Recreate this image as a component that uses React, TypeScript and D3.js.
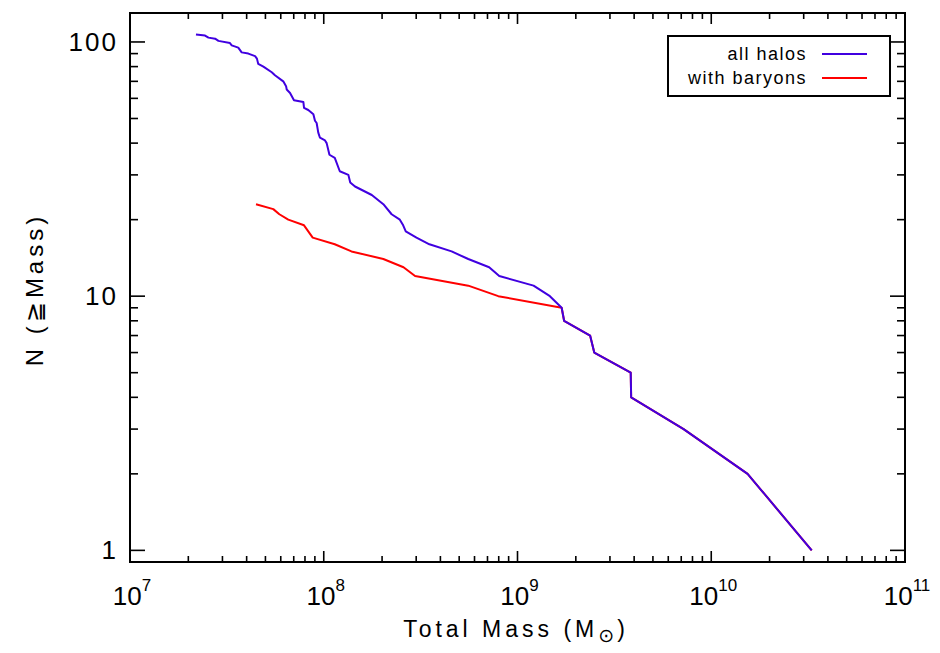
import * as d3 from "d3";

// cumulative halo counts N(>=M) (mass in solar masses)
const allHaloCounts = [
  1, 2, 3, 4, 5, 6, 7, 8, 9, 10, 11, 12, 13, 14, 15, 16, 17, 18, 19, 20, 21, 23, 25, 27, 28, 30,
  31, 35, 36, 40, 41, 42, 44, 48, 49, 52, 54, 55, 58, 59, 63, 65, 67, 70, 74, 76, 80, 82, 86, 88,
  90, 91, 95, 97, 99, 101, 103, 104, 106, 107,
];
const allHaloMasses = [
  3.3e10, 1.54e10, 7.2e9, 3.86e9, 3.84e9, 2.49e9, 2.37e9, 1.74e9, 1.69e9, 1.47e9, 1.21e9, 8.05e8,
  7.14e8, 5.57e8, 4.57e8, 3.51e8, 3.01e8, 2.65e8, 2.57e8, 2.47e8, 2.24e8, 2.03e8, 1.77e8, 1.45e8,
  1.37e8, 1.34e8, 1.21e8, 1.14e8, 1.07e8, 1.035e8, 1.015e8, 9.56e7, 9.37e7, 9.19e7, 9.01e7, 8.84e7,
  8.32e7, 7.91e7, 7.85e7, 7.02e7, 6.7e7, 6.44e7, 6.39e7, 6.18e7, 5.6e7, 5.39e7, 4.88e7, 4.59e7,
  4.52e7, 4.42e7, 4.08e7, 3.77e7, 3.62e7, 3.35e7, 3.28e7, 2.86e7, 2.75e7, 2.54e7, 2.44e7, 2.19e7,
];
const baryonCounts = [1, 2, 3, 4, 5, 6, 7, 8, 9, 10, 11, 12, 13, 14, 15, 16, 17, 19, 20, 21, 22, 23];
const baryonMasses = [
  3.3e10, 1.54e10, 7.2e9, 3.86e9, 3.84e9, 2.49e9, 2.37e9, 1.74e9, 1.69e9, 7.96e8, 5.57e8, 2.96e8,
  2.58e8, 2.03e8, 1.39e8, 1.14e8, 8.77e7, 7.91e7, 6.56e7, 5.9e7, 5.49e7, 4.47e7,
];

const xDecades = [7, 8, 9, 10, 11];
const yMajor = [1, 10, 100];
const legendLabels = ["all halos", "with baryons"];

const W = 940;
const H = 653;
const plot = { left: 130, right: 905, top: 13, bottom: 562 };
const blue = "#4000e0";
const red = "#ff0000";
const font = "'Liberation Sans', 'DejaVu Sans', sans-serif";

export default function App() {
  const x = d3.scaleLog().domain([1e7, 1e11]).range([plot.left, plot.right]);
  const y = d3.scaleLog().domain([0.9, 130]).range([plot.bottom, plot.top]);
  const line = d3
    .line<[number, number]>()
    .x((d) => x(d[0]))
    .y((d) => y(d[1]));

  const allPts = allHaloMasses.map((m, i) => [m, allHaloCounts[i]] as [number, number]);
  const barPts = baryonMasses.map((m, i) => [m, baryonCounts[i]] as [number, number]);

  const xMinor: number[] = [];
  xDecades.slice(0, -1).forEach((d) => {
    for (let k = 2; k <= 9; k++) xMinor.push(k * 10 ** d);
  });
  const yMinor: number[] = [];
  [1, 10].forEach((d) => {
    for (let k = 2; k <= 9; k++) yMinor.push(k * d);
  });

  return (
    <svg
      width={W}
      height={H}
      style={{ position: "absolute", left: 0, top: 0, background: "#fff" }}
      fontFamily={font}
    >
      {/* curves */}
      <path d={line(barPts) ?? ""} fill="none" stroke={red} strokeWidth={2} strokeLinejoin="round" />
      <path d={line(allPts) ?? ""} fill="none" stroke={blue} strokeWidth={2} strokeLinejoin="round" />

      {/* frame */}
      <rect
        x={plot.left}
        y={plot.top}
        width={plot.right - plot.left}
        height={plot.bottom - plot.top}
        fill="none"
        stroke="#000"
        strokeWidth={2}
      />

      {/* ticks on all four sides */}
      <g stroke="#000" strokeWidth={1.6}>
        {xDecades.map((d) => {
          const px = x(10 ** d);
          return (
            <g key={`xM${d}`}>
              <line x1={px} x2={px} y1={plot.bottom} y2={plot.bottom - 11} />
              <line x1={px} x2={px} y1={plot.top} y2={plot.top + 11} />
            </g>
          );
        })}
        {xMinor.map((v) => {
          const px = x(v);
          return (
            <g key={`xm${v}`}>
              <line x1={px} x2={px} y1={plot.bottom} y2={plot.bottom - 6} />
              <line x1={px} x2={px} y1={plot.top} y2={plot.top + 6} />
            </g>
          );
        })}
        {yMajor.map((v) => {
          const py = y(v);
          return (
            <g key={`yM${v}`}>
              <line x1={plot.left} x2={plot.left + 15} y1={py} y2={py} />
              <line x1={plot.right} x2={plot.right - 15} y1={py} y2={py} />
            </g>
          );
        })}
        {yMinor.map((v) => {
          const py = y(v);
          return (
            <g key={`ym${v}`}>
              <line x1={plot.left} x2={plot.left + 8} y1={py} y2={py} />
              <line x1={plot.right} x2={plot.right - 8} y1={py} y2={py} />
            </g>
          );
        })}
      </g>

      {/* tick labels */}
      {xDecades.map((d) => (
        <text key={`xl${d}`} x={x(10 ** d) + 2} y={plot.bottom + 43} textAnchor="middle" fontSize={26}>
          10
          <tspan dy={-14} fontSize={17}>
            {d}
          </tspan>
        </text>
      ))}
      {yMajor.map((v) => (
        <text
          key={`yl${v}`}
          x={plot.left - 12}
          y={y(v) + 9}
          textAnchor="end"
          fontSize={26}
          letterSpacing={2}
        >
          {v}
        </text>
      ))}

      {/* axis titles */}
      <text x={516} y={637} textAnchor="middle" fontSize={23} letterSpacing={4}>
        Total Mass (M
        <tspan dy={5} fontSize={19} letterSpacing={0}>
          ⊙
        </tspan>
        <tspan dy={-5} dx={3}>)</tspan>
      </text>
      <text
        transform={`translate(43,${(plot.top + plot.bottom) / 2 + 2}) rotate(-90)`}
        textAnchor="middle"
        fontSize={24}
        letterSpacing={4}
      >
        N (≧Mass)
      </text>

      {/* legend */}
      <rect x={668} y={36} width={222} height={60} fill="#fff" stroke="#000" strokeWidth={2} />
      {legendLabels.map((label, i) => (
        <g key={label}>
          <text x={807} y={60 + i * 24} textAnchor="end" fontSize={18} letterSpacing={1.5}>
            {label}
          </text>
          <line
            x1={822}
            x2={867}
            y1={54 + i * 24}
            y2={54 + i * 24}
            stroke={i === 0 ? blue : red}
            strokeWidth={2}
          />
        </g>
      ))}
    </svg>
  );
}
